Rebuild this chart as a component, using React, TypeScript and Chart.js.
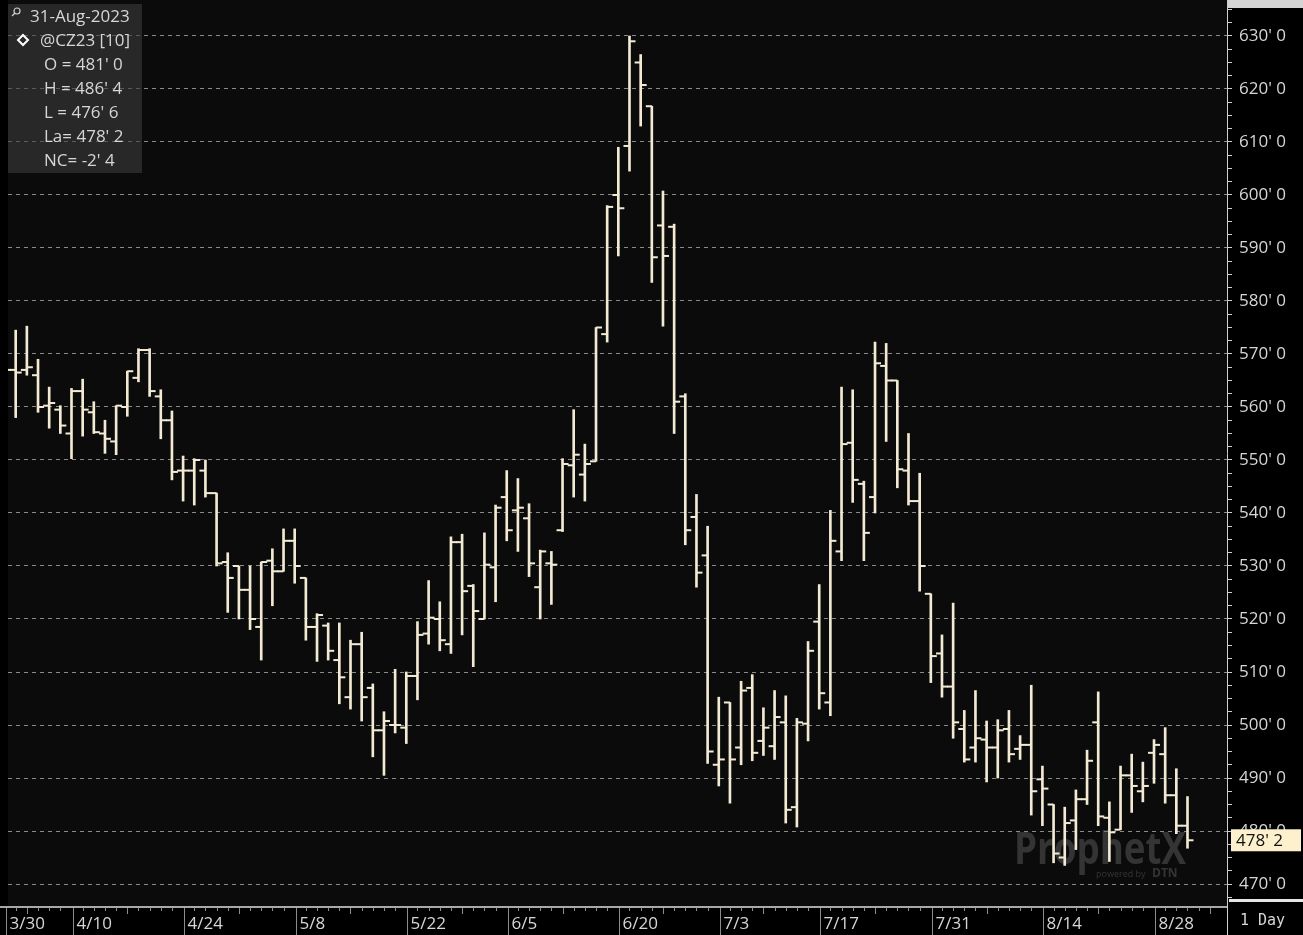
import { useEffect, useRef } from 'react';
import { Chart, registerables } from 'chart.js';

Chart.register(...registerables);

// ---- data (CZ23 daily bars, cents/bu) ----
const DATES = [
  '3/30', '3/31', '4/3', '4/4', '4/5', '4/6', '4/10', '4/11', '4/12', '4/13', '4/14',
  '4/17', '4/18', '4/19', '4/20', '4/21', '4/24', '4/25', '4/26', '4/27', '4/28',
  '5/1', '5/2', '5/3', '5/4', '5/5', '5/8', '5/9', '5/10', '5/11', '5/12',
  '5/15', '5/16', '5/17', '5/18', '5/19', '5/22', '5/23', '5/24', '5/25', '5/26',
  '5/30', '5/31', '6/1', '6/2', '6/5', '6/6', '6/7', '6/8', '6/9',
  '6/12', '6/13', '6/14', '6/15', '6/16', '6/20', '6/21', '6/22', '6/23',
  '6/26', '6/27', '6/28', '6/29', '6/30', '7/3', '7/5', '7/6', '7/7',
  '7/10', '7/11', '7/12', '7/13', '7/14', '7/17', '7/18', '7/19', '7/20', '7/21',
  '7/24', '7/25', '7/26', '7/27', '7/28', '7/31', '8/1', '8/2', '8/3', '8/4',
  '8/7', '8/8', '8/9', '8/10', '8/11', '8/14', '8/15', '8/16', '8/17', '8/18',
  '8/21', '8/22', '8/23', '8/24', '8/25', '8/28', '8/29', '8/30', '8/31',
];
const FUTURE_DATES = ['9/1', '9/4'];

const OPEN = [
  565, 567, 567, 566, 560.25, 559.5, 555, 563, 559, 555, 553.5,
  560, 565.5, 570.75, 562, 557.5, 548, 548, 548, 543.75, 530.75,
  530, 525.5, 518.5, 531, 529, 534.75, 527.75, 518.5, 518.75, 512.25,
  505.25, 515.25, 507, 499, 500, 499.5, 509.25, 517.25, 520, 515.25,
  534.5, 526.25, 520, 529.75, 543, 540.5, 539, 526, 530.5,
  536.75, 549, 547.25, 549.75, 573.75, 600, 609.25, 625, 616.75,
  594.25, 594, 562, 539.25, 532, 492.5, 504.25, 495.75, 507,
  497, 496, 500.5, 484.5, 500.25, 519.5, 504.25, 532.75, 553.25, 545.5,
  543, 567.75, 565, 548, 542.25, 524.75, 513.5, 507.25, 499.25, 495.75,
  497.25, 495.75, 499.25, 495.5, 496.25, 489.75, 485, 475, 482, 486,
  500.5, 482.5, 480.25, 490.5, 487.5, 494.75, 494.5, 486.75, 481,
];
const HIGH = [
  569, 574.5, 575.25, 569, 563.75, 560.25, 563.5, 565.25, 561, 557.5, 560.25,
  566.75, 571, 571, 563.25, 559.25, 550.75, 550.25, 550, 543.75, 532.5,
  530, 530, 530.75, 533.25, 537, 537, 527.75, 521, 519.25, 519.25,
  516, 517.5, 507.75, 502.5, 510.5, 510, 519.5, 527.25, 523.25, 535.5,
  536, 526.5, 536.25, 541.5, 548, 546.5, 541.75, 533, 532.75,
  550.25, 559.5, 553, 575, 598, 609, 630, 626.5, 616.75,
  600.75, 594.5, 562.5, 543.5, 537.5, 505.25, 504.25, 508.25, 509.5,
  503.25, 506.5, 505.5, 501.25, 515.75, 526.5, 540.5, 563.75, 563.25, 546,
  572.25, 572, 565, 555, 547.5, 524.75, 517, 523, 502.75, 506.5,
  500.75, 501, 502.75, 498, 507.5, 492.25, 485, 484.5, 487.75, 495.25,
  506.25, 485.5, 492.25, 494.5, 493, 497.25, 499.5, 491.75, 486.5,
];
const LOW = [
  561, 558, 566, 559, 556, 555, 550.25, 554.5, 555, 551.25, 551,
  558.25, 564.75, 562, 554, 546.25, 542.25, 541.5, 543, 530, 521.25,
  520, 518, 512.25, 522.5, 529, 526.75, 516, 512, 512.25, 504,
  503, 500.75, 494, 490.5, 498.5, 496.5, 504.75, 515.25, 514, 513.5,
  517, 511, 520, 523.25, 534.75, 532.75, 528, 520, 522.75,
  536.5, 543, 542.25, 549.75, 572.25, 588.5, 604.5, 613, 583.5,
  575.25, 555, 534, 526, 492.75, 488.5, 485.25, 492.5, 493.25,
  494.25, 493.5, 481.5, 480.75, 497, 503, 501.75, 531, 542, 531,
  540, 553.5, 544.75, 541.5, 525.25, 508, 505.25, 497.5, 493, 493,
  489.25, 490, 493, 493.5, 483, 481, 474, 473.5, 476.5, 485,
  481, 474.25, 480.25, 483.5, 485.5, 489, 485.25, 479.5, 476.75,
];
const CLOSE = [
  567, 566.5, 567.5, 560, 560.75, 556.5, 563, 559.5, 555.25, 554, 560.25,
  566.75, 570.75, 563, 557.5, 547.75, 548, 550, 543.75, 530.5, 527.75,
  525.5, 520, 530.75, 529, 534.75, 530, 518.5, 520.75, 514, 509,
  515.25, 505.25, 499, 500.75, 500, 509.25, 517, 520.25, 516, 534.5,
  525.25, 521.5, 530.25, 541, 536.75, 541, 530.5, 532.75, 530.25,
  549.25, 551, 549.25, 575, 597.75, 597.5, 629, 620.75, 588.25,
  588.5, 561, 536.75, 528.75, 495, 493.5, 493.5, 506.5, 494.75,
  499.5, 501.5, 484, 500.5, 514, 506, 534.75, 553, 546.25, 536.25,
  568.25, 565, 548.25, 542.25, 530, 513, 507.25, 500.5, 493.5, 497.5,
  495.75, 499, 494.5, 496.25, 487.5, 488, 475.75, 481.5, 486, 493.25,
  482.75, 479.75, 490.5, 488.5, 488.5, 496.25, 486.75, 481, 478.25,
];

const AXIS_LABELS = ['3/30', '4/10', '4/24', '5/8', '5/22', '6/5', '6/20', '7/3', '7/17', '7/31', '8/14', '8/28'];
const PRICE_LABELS = [470, 480, 490, 500, 510, 520, 530, 540, 550, 560, 570, 580, 590, 600, 610, 620, 630];
const PRICE_MINOR_STEP = 2.5;

const INFO_DATE = '31-Aug-2023';
const INFO_SYMBOL = '@CZ23 [10]';
const INFO_LINES = ["O = 481' 0", "H = 486' 4", "L = 476' 6", "La= 478' 2", "NC= -2' 4"];
const LAST_PRICE = 478.25;
const PERIOD_LABEL = '1 Day';

const BAR_COLOR = '#f3ead3';
const TEXT_COLOR = '#d6d6d6';
const FONT = '"Open Sans", "Noto Sans", sans-serif';

const fmtPrice = (v: number) => {
  const whole = Math.floor(v + 1e-9);
  const eighths = Math.round((v - whole) * 8);
  return `${whole}' ${eighths}`;
};

const dayOfWeek = (s: string) => {
  const [m, d] = s.split('/').map(Number);
  return new Date(2023, m - 1, d).getDay();
};

export default function App() {
  const ref = useRef<HTMLCanvasElement>(null);

  useEffect(() => {
    const canvas = ref.current;
    if (!canvas) return;

    const yTicks: number[] = [];
    for (let v = PRICE_LABELS[0] - PRICE_MINOR_STEP; v <= PRICE_LABELS[PRICE_LABELS.length - 1] + PRICE_MINOR_STEP * 2; v += PRICE_MINOR_STEP) {
      yTicks.push(v);
    }

    const axisDates = [...DATES, ...FUTURE_DATES];

    const backgroundPlugin = {
      id: 'bg',
      beforeDraw(chart: any) {
        const { ctx, chartArea } = chart;
        ctx.save();
        ctx.fillStyle = '#000000';
        ctx.fillRect(0, 0, chart.width, chart.height);
        ctx.fillStyle = '#0b0b0b';
        ctx.fillRect(chartArea.left, chartArea.top, chartArea.right - chartArea.left, chartArea.bottom - chartArea.top);
        ctx.restore();
      },
    };

    const watermarkPlugin = {
      id: 'watermark',
      beforeDatasetsDraw(chart: any) {
        const { ctx } = chart;
        ctx.save();
        ctx.fillStyle = 'rgba(110,110,110,0.42)';
        ctx.font = `bold 44px ${FONT}`;
        ctx.textBaseline = 'alphabetic';
        ctx.textAlign = 'left';
        ctx.fillText('ProphetX', 1014, 864, 172);
        ctx.font = `9px ${FONT}`;
        ctx.fillText('powered by', 1096, 877);
        ctx.font = `bold 12px ${FONT}`;
        ctx.fillText('DTN', 1152, 877);
        ctx.restore();
      },
    };

    const ocPlugin = {
      id: 'openClose',
      afterDatasetsDraw(chart: any) {
        const { ctx, chartArea, scales } = chart;
        const xs = scales.x;
        const ys = scales.y;
        ctx.save();
        ctx.beginPath();
        ctx.rect(chartArea.left, chartArea.top, chartArea.right - chartArea.left, chartArea.bottom - chartArea.top);
        ctx.clip();
        ctx.fillStyle = BAR_COLOR;
        for (let i = 0; i < DATES.length; i++) {
          const px = xs.getPixelForValue(i);
          const po = ys.getPixelForValue(OPEN[i]);
          const pc = ys.getPixelForValue(CLOSE[i]);
          ctx.fillRect(px - 6, po - 1, 6, 2);
          ctx.fillRect(px, pc - 1, 6, 2);
        }
        ctx.restore();
      },
    };

    const overlayPlugin = {
      id: 'overlay',
      afterDraw(chart: any) {
        const { ctx, chartArea, scales } = chart;
        const xs = scales.x;
        const ys = scales.y;
        const W = chart.width;
        const H = chart.height;
        ctx.save();

        // bottom time axis
        const y0 = chartArea.bottom;
        ctx.strokeStyle = '#a8a8a8';
        ctx.lineWidth = 2;
        ctx.beginPath();
        ctx.moveTo(0, y0 + 1);
        ctx.lineTo(chartArea.right, y0 + 1);
        ctx.stroke();

        ctx.lineWidth = 1;
        ctx.font = `17px ${FONT}`;
        ctx.textBaseline = 'middle';
        ctx.textAlign = 'left';
        for (let i = 0; i < axisDates.length; i++) {
          const px = Math.round(xs.getPixelForValue(i)) + 0.5;
          if (px > chartArea.right) break;
          const lbl = axisDates[i];
          const weekStart = i > 0 && dayOfWeek(lbl) < dayOfWeek(axisDates[i - 1]);
          if (AXIS_LABELS.includes(lbl)) {
            ctx.strokeStyle = '#8c8c8c';
            ctx.beginPath();
            ctx.moveTo(px + 1, y0 + 2);
            ctx.lineTo(px + 1, H);
            ctx.stroke();
            ctx.fillStyle = TEXT_COLOR;
            ctx.fillText(lbl, px + 4, y0 + 18);
          } else {
            ctx.strokeStyle = '#8c8c8c';
            ctx.beginPath();
            ctx.moveTo(px, y0 + 2);
            ctx.lineTo(px, y0 + (weekStart ? 8 : 5));
            ctx.stroke();
          }
        }

        // right panel frame
        ctx.strokeStyle = '#cfcfcf';
        ctx.lineWidth = 1;
        ctx.beginPath();
        ctx.moveTo(chartArea.right + 0.5, chartArea.bottom);
        ctx.lineTo(chartArea.right + 0.5, H);
        ctx.stroke();
        ctx.fillStyle = '#d4d4d4';
        ctx.fillRect(chartArea.right + 1, 0, W - chartArea.right, 8);
        ctx.fillStyle = '#e6e6e6';
        ctx.fillRect(chartArea.right + 2, chartArea.bottom - 7, W - chartArea.right, 3);

        ctx.fillStyle = TEXT_COLOR;
        ctx.font = `15px "DejaVu Sans Mono", "Liberation Mono", monospace`;
        ctx.fillText(PERIOD_LABEL, chartArea.right + 13, y0 + 15);

        // last price box
        const py = ys.getPixelForValue(LAST_PRICE);
        ctx.fillStyle = '#fdf1cd';
        ctx.fillRect(chartArea.right + 4, py - 11, 70, 22);
        ctx.fillStyle = '#111111';
        ctx.font = `17px ${FONT}`;
        ctx.fillText(fmtPrice(LAST_PRICE), chartArea.right + 9, py + 1);

        // info box
        ctx.fillStyle = 'rgba(60,60,60,0.6)';
        ctx.fillRect(chartArea.left, 4, 134, 169);
        ctx.fillStyle = TEXT_COLOR;
        ctx.font = `17px ${FONT}`;
        ctx.fillText(INFO_DATE, 30, 17);
        ctx.fillText(INFO_SYMBOL, 40, 41);
        INFO_LINES.forEach((t, k) => ctx.fillText(t, 44, 65 + k * 24));
        // magnifier icon
        ctx.strokeStyle = '#d0d0d0';
        ctx.lineWidth = 1.2;
        ctx.beginPath();
        ctx.arc(17, 11, 3, 0, Math.PI * 2);
        ctx.stroke();
        ctx.beginPath();
        ctx.moveTo(15, 13);
        ctx.lineTo(12, 16);
        ctx.stroke();
        // diamond icon
        ctx.strokeStyle = '#ffffff';
        ctx.lineWidth = 2;
        ctx.beginPath();
        ctx.moveTo(23, 35);
        ctx.lineTo(28, 40);
        ctx.lineTo(23, 45);
        ctx.lineTo(18, 40);
        ctx.closePath();
        ctx.stroke();

        ctx.restore();
      },
    };

    const chart = new Chart(canvas, {
      type: 'bar',
      data: {
        datasets: [
          {
            label: '@CZ23',
            data: DATES.map((_, i) => ({ x: i, y: [LOW[i], HIGH[i]] })) as any,
            backgroundColor: BAR_COLOR,
            borderWidth: 0,
            barThickness: 2,
          },
        ],
      },
      options: {
        responsive: false,
        animation: false,
        devicePixelRatio: 1,
        layout: { padding: { left: 8, top: 0, right: 0, bottom: 29 } },
        plugins: { legend: { display: false }, tooltip: { enabled: false } },
        scales: {
          x: { type: 'linear', min: 0.31, max: 109.54, display: false, offset: false },
          y: {
            position: 'right',
            min: 465.85,
            max: 636.79,
            afterFit: (s: any) => {
              s.width = 76;
              s.paddingTop = 0;
              s.paddingBottom = 0;
            },
            afterBuildTicks: (s: any) => {
              s.ticks = yTicks.map((v) => ({ value: v }));
            },
            ticks: {
              autoSkip: false,
              color: TEXT_COLOR,
              font: { family: FONT, size: 17 },
              padding: 7,
              callback: (v: any) => (Number(v) % 10 === 0 ? fmtPrice(Number(v)) : ''),
            },
            grid: {
              color: (c: any) => (c.tick && c.tick.value % 10 === 0 ? '#8a8a8a' : 'rgba(0,0,0,0)'),
              tickColor: '#cfcfcf',
              tickLength: 5,
              tickBorderDash: [],
              drawOnChartArea: true,
            },
            border: { display: true, color: '#cfcfcf', width: 1, dash: [4, 4] },
          },
        },
      },
      plugins: [backgroundPlugin, watermarkPlugin, ocPlugin, overlayPlugin],
    });

    return () => chart.destroy();
  }, []);

  return (
    <div style={{ position: 'fixed', left: 0, top: 0, width: 1303, height: 935, background: '#000' }}>
      <canvas ref={ref} width={1303} height={935} style={{ display: 'block', width: 1303, height: 935 }} />
    </div>
  );
}
